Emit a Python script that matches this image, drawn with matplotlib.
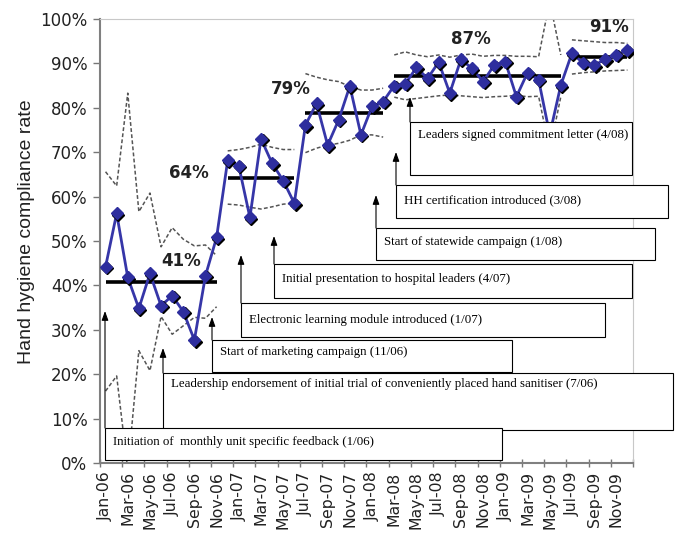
import matplotlib
matplotlib.use('Agg')
import matplotlib.pyplot as plt
import matplotlib.transforms as mtransforms
from matplotlib.patches import Rectangle
import pandas as pd

W, H = 676, 534

# monthly labels Jan-06 .. Dec-09
months = pd.date_range('2006-01-01', periods=48, freq='MS').strftime('%b-%y').tolist()

# monthly hand hygiene compliance (%)
compliance = [44.2, 56.2, 41.8, 34.8, 42.7, 35.4, 37.7, 34.1, 27.7, 42.2, 50.8, 68.2,
              66.9, 55.3, 73.0, 67.5, 63.6, 58.5, 76.1, 81.0, 71.6, 77.3, 84.9, 73.9,
              80.3, 81.4, 85.0, 85.4, 89.1, 86.6, 90.3, 83.3, 90.9, 88.9, 85.9, 89.6,
              90.4, 82.5, 87.9, 86.3, 74.0, 85.1, 92.3, 90.1, 89.6, 90.9, 91.9, 93.0]

# upper / lower control limits (%)
ucl = [65.6, 62.4, 83.3, 56.6, 60.8, 48.7, 53.0, 50.4, 48.9, 49.1, 46.7,
       70.3, 70.6, 71.1, 71.8, 71.1, 70.6, 70.6,
       87.7, 86.9, 86.3, 85.9, 84.8, 84.0, 84.0, 84.4,
       91.9, 92.6, 91.9, 91.5, 91.9, 91.4, 91.9, 92.1, 91.6, 91.8, 91.8, 91.6, 91.6, 91.5, 104.0, 91.9,
       95.3, 95.1, 94.9, 94.7, 94.7, 94.5]
lcl = [16.2, 19.6, -1.5, 25.3, 20.8, 33.0, 29.0, 30.9, 32.8, 32.6, 35.2,
       58.3, 58.1, 57.6, 57.2, 57.7, 58.3, 58.5,
       69.9, 70.9, 71.6, 72.0, 72.7, 73.9, 73.9, 73.4,
       82.4, 81.8, 82.1, 82.4, 82.7, 82.9, 82.7, 82.5, 82.3, 82.5, 82.6, 82.8, 82.5, 82.6, 70.4, 82.5,
       87.6, 87.9, 88.1, 88.3, 88.4, 88.5]

# phases: first / last month index, mean, label
phase_start = [0, 11, 18, 26, 42]
phase_end = [10, 17, 25, 41, 47]
phase_mean = [40.8, 64.3, 78.9, 87.2, 91.5]
phase_label = ['41%', '64%', '79%', '87%', '91%']
label_x = [6.8, 7.5, 16.7, 32.9, 45.3]
label_y = [45.5, 65.3, 84.2, 95.4, 98.3]

# interventions
event_text = ['Initiation of  monthly unit specific feedback (1/06)',
              'Leadership endorsement of initial trial of conveniently placed hand sanitiser (7/06)',
              'Start of marketing campaign (11/06)',
              'Electronic learning module introduced (1/07)',
              'Initial presentation to hospital leaders (4/07)',
              'Start of statewide campaign (1/08)',
              'HH certification introduced (3/08)',
              'Leaders signed commitment letter (4/08)']

# callout box layout in pixels (from top-left)
box_left = [105, 163, 212, 241, 274, 376, 396, 410]
box_top = [428, 373, 340, 303, 264, 228, 185, 122]
box_right = [502, 673, 512, 605, 632, 655, 668, 632]
box_bottom = [460, 430, 372, 337, 298, 260, 218, 175]
arrow_tip = [311, 348, 317, 255, 236, 195, 152, 97]
text_y = [442, 384, 352, 320, 279, 242, 200, 135]

fig = plt.figure(figsize=(W / 100, H / 100), dpi=100)
ax = fig.add_axes([100 / W, 1 - 463 / H, 533 / W, 444 / H])
px = mtransforms.Affine2D().scale(1 / W, -1 / H).translate(0, 1) + fig.transFigure

x = list(range(48))

# control limits and means per phase
for s, e, m in zip(phase_start, phase_end, phase_mean):
    xs = x[s:e + 1]
    ax.plot(xs, ucl[s:e + 1], color='#555555', lw=1.1, ls=(0, (2.5, 1.5)), zorder=2)
    ax.plot(xs, lcl[s:e + 1], color='#555555', lw=1.1, ls=(0, (2.5, 1.5)), zorder=2)
    ax.plot([s, e], [m, m], color='black', lw=2.6, zorder=3, solid_capstyle='butt')

for lx, ly, t in zip(label_x, label_y, phase_label):
    ax.text(lx, ly, t, ha='center', va='center', fontsize=12, fontweight='bold', color='#222222')

# compliance line with shadowed diamonds
ax.plot(x, compliance, color='#3636a8', lw=2.0, zorder=4)
shadow = mtransforms.offset_copy(ax.transData, fig=fig, x=1.5, y=-1.5, units='dots')
ax.plot(x, compliance, ls='none', marker='D', ms=6, color='black', transform=shadow, zorder=4.5)
ax.plot(x, compliance, ls='none', marker='D', ms=6, color='#2e2e9e', mec='#2e2e9e', zorder=5)

ax.set_xlim(-0.5, 47.5)
ax.set_ylim(0, 100)
ax.set_yticks(range(0, 101, 10))
ax.set_yticklabels([f'{v}%' for v in range(0, 101, 10)])
ax.tick_params(axis='y', labelsize=12, length=5, width=1, color='#777777', labelcolor='#222222', pad=4)
ax.set_xticks(x[::2])
ax.set_xticklabels(months[::2], rotation=90, fontsize=11.3, color='#222222')
ax.set_xticks([i - 0.5 for i in range(0, 49, 2)], minor=True)
ax.tick_params(axis='x', which='major', length=0, pad=6)
ax.tick_params(axis='x', which='minor', length=6, width=1, direction='inout', color='#777777')

for side in ['top', 'right']:
    ax.spines[side].set_color('#c8c8c8')
for side in ['left', 'bottom']:
    ax.spines[side].set_color('#808080')
    ax.spines[side].set_linewidth(1.5)

ax.set_ylabel('Hand hygiene compliance rate', fontsize=14, family='Liberation Sans', color='#222222')
ax.yaxis.set_label_coords(-0.122, 0.52)

# callout boxes with arrows
for i, t in enumerate(event_text):
    z = 10 + (i == 0) * 5
    l, tp, r, b = box_left[i], box_top[i], box_right[i], box_bottom[i]
    ax.add_patch(Rectangle((l, tp), r - l, b - tp, transform=px, facecolor='white',
                           edgecolor='black', lw=0.8, clip_on=False, zorder=z))
    ax.annotate('', xy=(l, arrow_tip[i]), xytext=(l, tp), xycoords=px, textcoords=px,
                arrowprops=dict(arrowstyle='-|>,head_length=0.5,head_width=0.18', mutation_scale=11,
                                color='black', lw=0.8, shrinkA=0, shrinkB=0),
                annotation_clip=False, zorder=z)
    ax.text(l + 8, text_y[i], t, transform=px, fontsize=9.3, family='Liberation Serif',
            va='center', ha='left', zorder=z + 1, clip_on=False)

fig.savefig('out.png', dpi=100, facecolor='white')
